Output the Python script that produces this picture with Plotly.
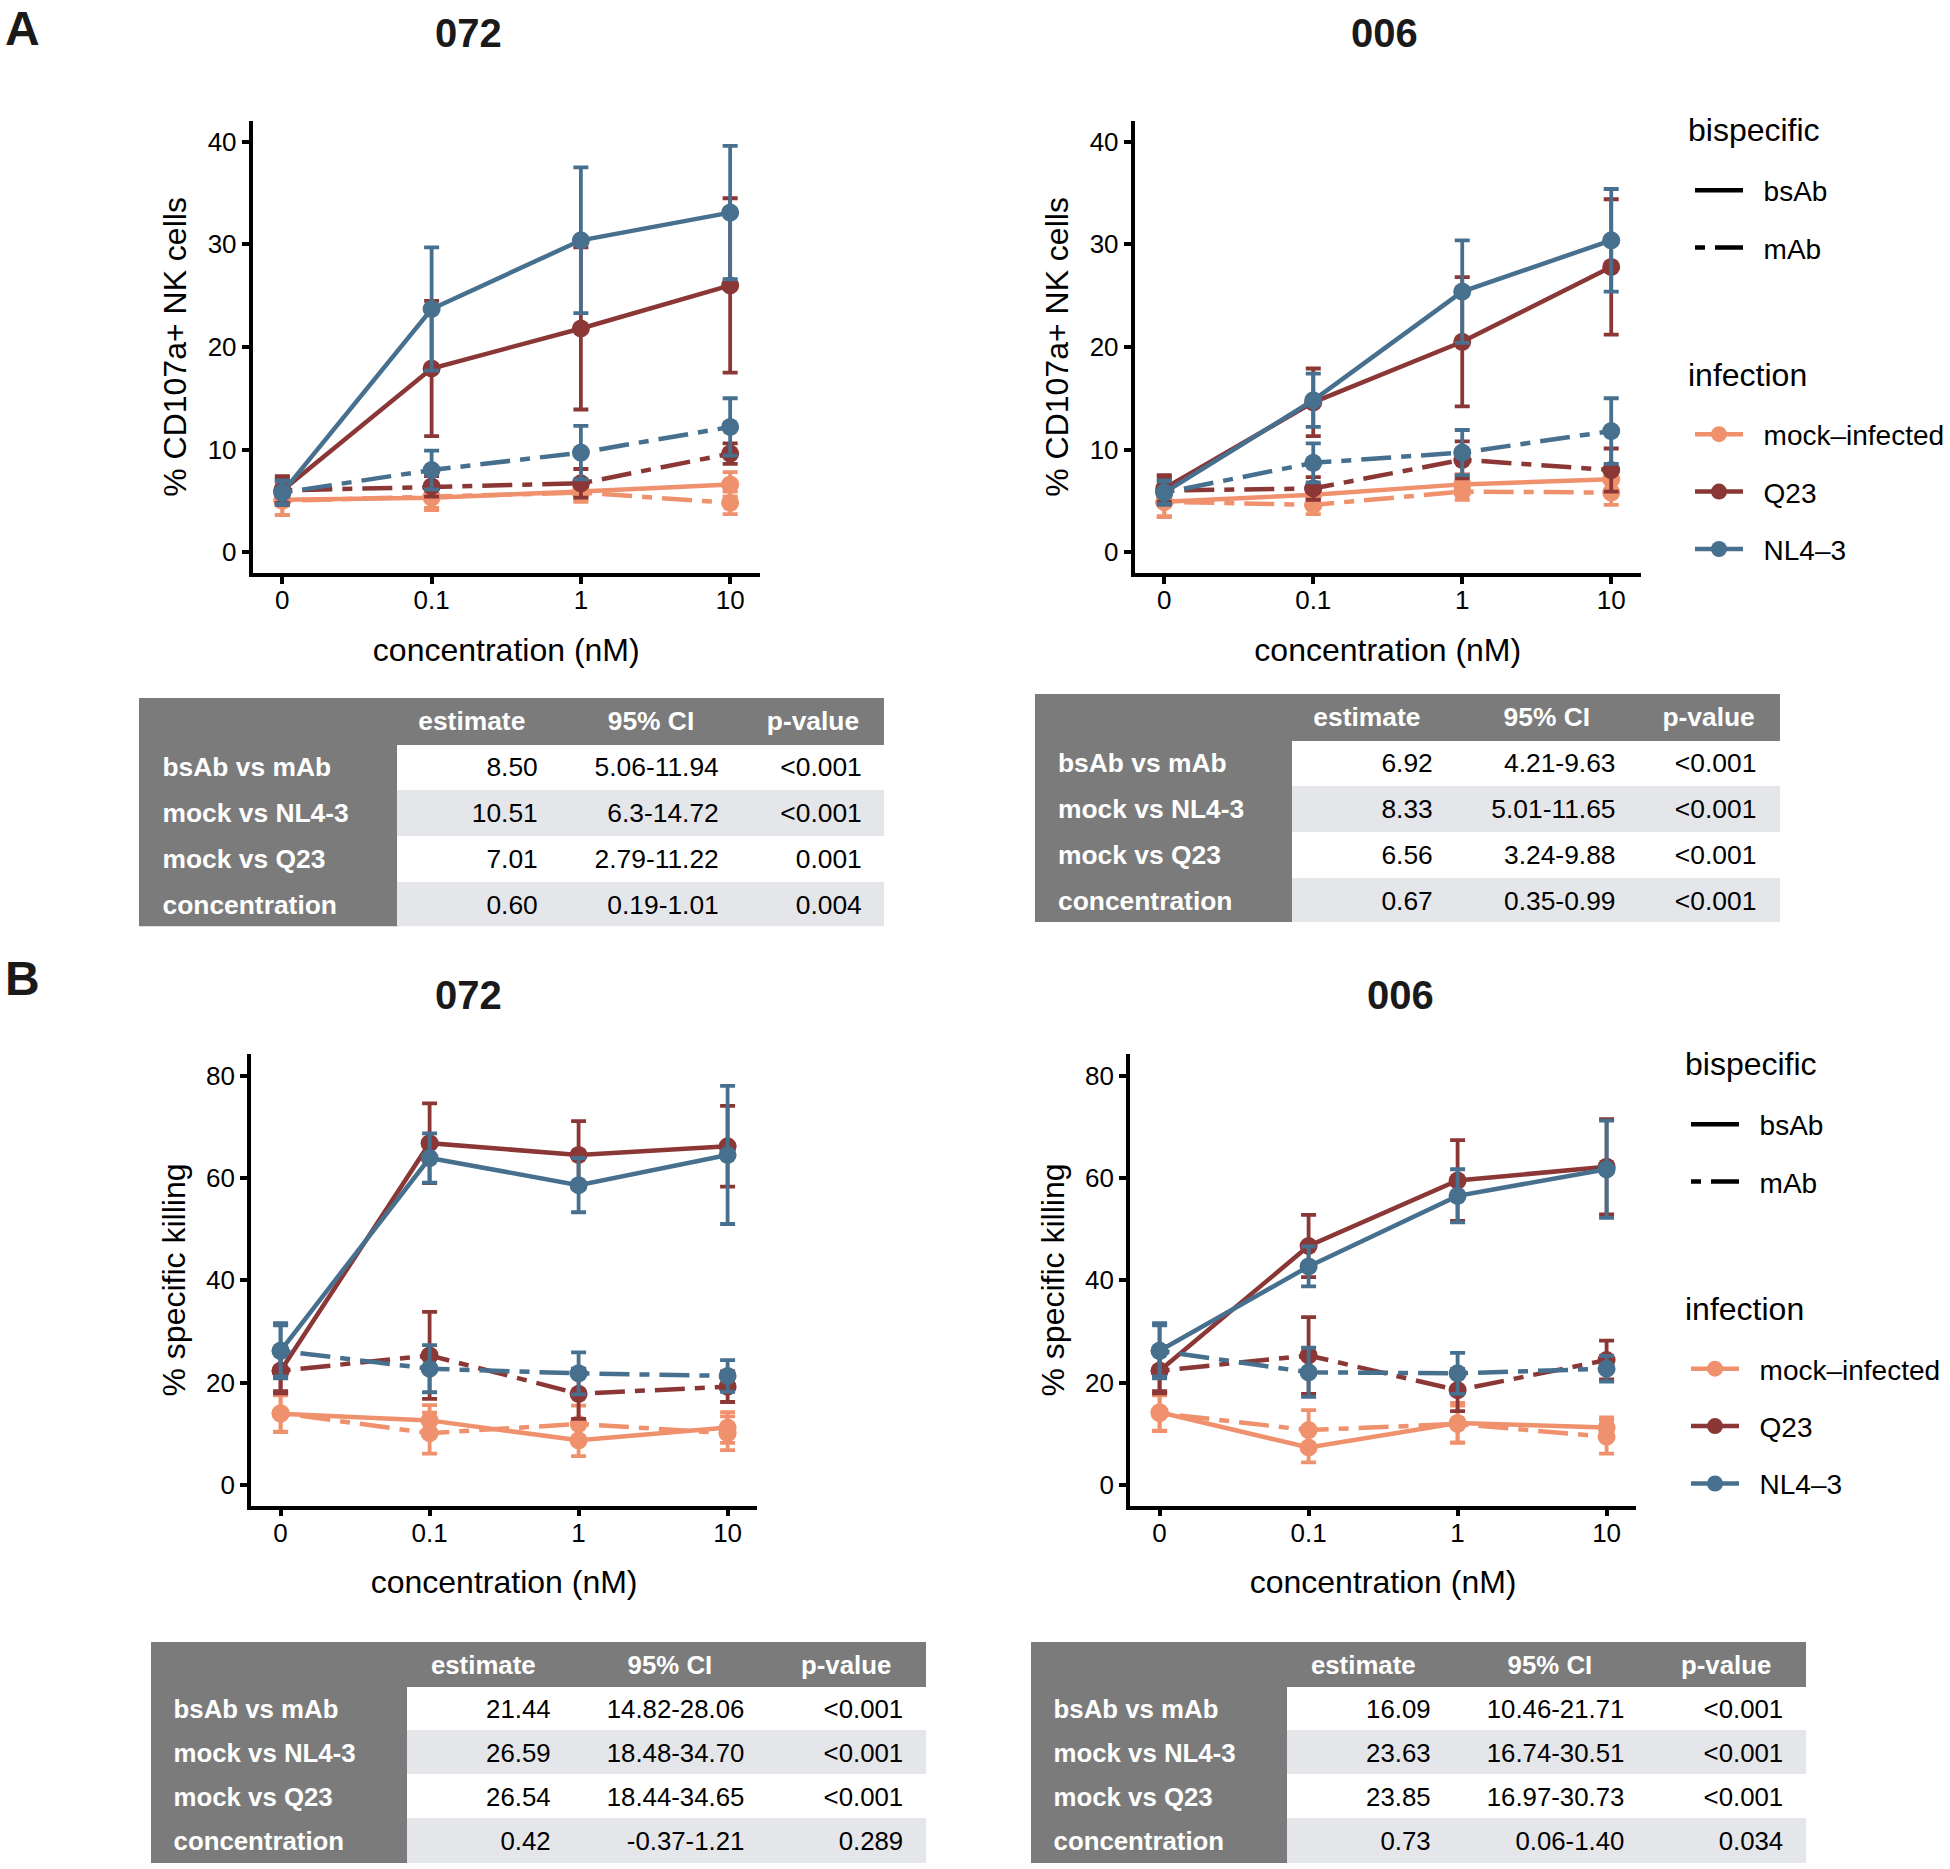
import plotly.graph_objects as go

# ---------------- data ----------------
conc_labels = ["0", "0.1", "1", "10"]
infections = ["mock\u2013infected", "Q23", "NL4\u20133"]
bispecific = ["bsAb", "mAb"]

# Panel A 072 (% CD107a+ NK cells): means and error half-widths
A072_mock_bsAb = [5.1, 5.3, 5.9, 6.6]
A072_mock_bsAb_err = [1.5, 1.0, 0.8, 1.2]
A072_mock_mAb = [5.0, 5.4, 5.8, 4.8]
A072_mock_mAb_err = [1.4, 1.3, 0.9, 1.1]
A072_Q23_bsAb = [6.0, 17.9, 21.8, 26.0]
A072_Q23_bsAb_err = [1.4, 6.6, 7.9, 8.5]
A072_Q23_mAb = [6.0, 6.4, 6.7, 9.6]
A072_Q23_mAb_err = [1.2, 1.0, 1.4, 1.0]
A072_NL43_bsAb = [5.8, 23.7, 30.4, 33.1]
A072_NL43_bsAb_err = [1.2, 6.0, 7.1, 6.5]
A072_NL43_mAb = [5.8, 8.0, 9.7, 12.2]
A072_NL43_mAb_err = [1.1, 1.9, 2.6, 2.8]

# Panel A 006
A006_mock_bsAb = [4.9, 5.6, 6.6, 7.1]
A006_mock_bsAb_err = [1.5, 1.0, 1.0, 1.2]
A006_mock_mAb = [4.9, 4.6, 5.9, 5.8]
A006_mock_mAb_err = [1.4, 0.9, 0.8, 1.2]
A006_Q23_bsAb = [6.2, 14.6, 20.5, 27.8]
A006_Q23_bsAb_err = [1.3, 3.3, 6.3, 6.6]
A006_Q23_mAb = [6.0, 6.2, 9.0, 8.0]
A006_Q23_mAb_err = [1.3, 1.1, 1.8, 2.1]
A006_NL43_bsAb = [5.8, 14.8, 25.4, 30.4]
A006_NL43_bsAb_err = [1.2, 2.6, 5.0, 5.0]
A006_NL43_mAb = [5.8, 8.7, 9.7, 11.8]
A006_NL43_mAb_err = [1.1, 1.9, 2.2, 3.2]

# Panel B 072 (% specific killing)
B072_mock_bsAb = [13.9, 12.6, 8.7, 11.2]
B072_mock_bsAb_err = [3.6, 3.0, 3.1, 3.0]
B072_mock_mAb = [14.0, 10.1, 11.9, 10.1]
B072_mock_mAb_err = [3.6, 4.0, 3.6, 3.3]
B072_Q23_bsAb = [22.3, 66.8, 64.5, 66.2]
B072_Q23_bsAb_err = [4.4, 7.8, 6.6, 7.9]
B072_Q23_mAb = [22.3, 25.3, 17.8, 19.2]
B072_Q23_mAb_err = [4.0, 8.5, 4.9, 3.0]
B072_NL43_bsAb = [26.2, 63.9, 58.6, 64.5]
B072_NL43_bsAb_err = [5.4, 4.8, 5.3, 13.5]
B072_NL43_mAb = [26.2, 22.7, 21.8, 21.3]
B072_NL43_mAb_err = [5.0, 4.6, 4.1, 3.1]

# Panel B 006
B006_mock_bsAb = [14.2, 7.3, 12.1, 11.2]
B006_mock_bsAb_err = [3.6, 2.9, 3.9, 2.0]
B006_mock_mAb = [14.0, 10.7, 11.9, 9.4]
B006_mock_mAb_err = [3.5, 3.9, 3.6, 3.3]
B006_Q23_bsAb = [22.3, 46.7, 59.5, 62.2]
B006_Q23_bsAb_err = [4.4, 6.1, 7.9, 9.3]
B006_Q23_mAb = [22.3, 25.3, 18.5, 24.4]
B006_Q23_mAb_err = [4.0, 7.5, 4.1, 3.8]
B006_NL43_bsAb = [26.2, 42.7, 56.5, 61.7]
B006_NL43_bsAb_err = [5.4, 3.9, 5.2, 9.5]
B006_NL43_mAb = [26.2, 22.0, 21.8, 22.7]
B006_NL43_mAb_err = [5.0, 4.8, 4.0, 2.5]

# Tables
table_header = ["", "estimate", "95% CI", "p-value"]
table_rows = ["bsAb vs mAb", "mock vs NL4-3", "mock vs Q23", "concentration"]
tA072_est = ["8.50", "10.51", "7.01", "0.60"]
tA072_ci = ["5.06-11.94", "6.3-14.72", "2.79-11.22", "0.19-1.01"]
tA072_p = ["<0.001", "<0.001", "0.001", "0.004"]
tA006_est = ["6.92", "8.33", "6.56", "0.67"]
tA006_ci = ["4.21-9.63", "5.01-11.65", "3.24-9.88", "0.35-0.99"]
tA006_p = ["<0.001", "<0.001", "<0.001", "<0.001"]
tB072_est = ["21.44", "26.59", "26.54", "0.42"]
tB072_ci = ["14.82-28.06", "18.48-34.70", "18.44-34.65", "-0.37-1.21"]
tB072_p = ["<0.001", "<0.001", "<0.001", "0.289"]
tB006_est = ["16.09", "23.63", "23.85", "0.73"]
tB006_ci = ["10.46-21.71", "16.74-30.51", "16.97-30.73", "0.06-1.40"]
tB006_p = ["<0.001", "<0.001", "<0.001", "0.034"]

# ---------------- style ----------------
W, H = 1950, 1869
FONT = "Liberation Sans, Arial, Helvetica, sans-serif"
COLORS = {"mock\u2013infected": "#F0916E", "Q23": "#8A3736", "NL4\u20133": "#47708F"}
DASH = {"bsAb": "solid", "mAb": "10px,10px,30px,10px"}
LW = 4.5
DARK = "#7B7B7B"
LIGHT = "#E5E6EA"


def px(x):
    return x / W


def py(y):
    return 1 - y / H


fig = go.Figure()

panels = [
    ("", {
        ("mock\u2013infected", "bsAb"): (A072_mock_bsAb, A072_mock_bsAb_err),
        ("mock\u2013infected", "mAb"): (A072_mock_mAb, A072_mock_mAb_err),
        ("Q23", "bsAb"): (A072_Q23_bsAb, A072_Q23_bsAb_err),
        ("Q23", "mAb"): (A072_Q23_mAb, A072_Q23_mAb_err),
        ("NL4\u20133", "bsAb"): (A072_NL43_bsAb, A072_NL43_bsAb_err),
        ("NL4\u20133", "mAb"): (A072_NL43_mAb, A072_NL43_mAb_err),
    }, (252.5, 760.0), (120.6, 573.3), (-2.07, 42.07), 10, "% CD107a+ NK cells"),
    ("2", {
        ("mock\u2013infected", "bsAb"): (A006_mock_bsAb, A006_mock_bsAb_err),
        ("mock\u2013infected", "mAb"): (A006_mock_mAb, A006_mock_mAb_err),
        ("Q23", "bsAb"): (A006_Q23_bsAb, A006_Q23_bsAb_err),
        ("Q23", "mAb"): (A006_Q23_mAb, A006_Q23_mAb_err),
        ("NL4\u20133", "bsAb"): (A006_NL43_bsAb, A006_NL43_bsAb_err),
        ("NL4\u20133", "mAb"): (A006_NL43_mAb, A006_NL43_mAb_err),
    }, (1134.5, 1641.0), (120.6, 573.3), (-2.07, 42.07), 10, "% CD107a+ NK cells"),
    ("3", {
        ("mock\u2013infected", "bsAb"): (B072_mock_bsAb, B072_mock_bsAb_err),
        ("mock\u2013infected", "mAb"): (B072_mock_mAb, B072_mock_mAb_err),
        ("Q23", "bsAb"): (B072_Q23_bsAb, B072_Q23_bsAb_err),
        ("Q23", "mAb"): (B072_Q23_mAb, B072_Q23_mAb_err),
        ("NL4\u20133", "bsAb"): (B072_NL43_bsAb, B072_NL43_bsAb_err),
        ("NL4\u20133", "mAb"): (B072_NL43_mAb, B072_NL43_mAb_err),
    }, (250.8, 757.4), (1054.3, 1505.7), (-4.08, 84.18), 20, "% specific killing"),
    ("4", {
        ("mock\u2013infected", "bsAb"): (B006_mock_bsAb, B006_mock_bsAb_err),
        ("mock\u2013infected", "mAb"): (B006_mock_mAb, B006_mock_mAb_err),
        ("Q23", "bsAb"): (B006_Q23_bsAb, B006_Q23_bsAb_err),
        ("Q23", "mAb"): (B006_Q23_mAb, B006_Q23_mAb_err),
        ("NL4\u20133", "bsAb"): (B006_NL43_bsAb, B006_NL43_bsAb_err),
        ("NL4\u20133", "mAb"): (B006_NL43_mAb, B006_NL43_mAb_err),
    }, (1129.8, 1636.4), (1054.3, 1505.7), (-4.08, 84.18), 20, "% specific killing"),
]

xidx = list(range(len(conc_labels)))

for suffix, data, xd, yd, yr, dt, ytitle in panels:
    for inf in infections:
        for bs in bispecific:
            vals, err = data[(inf, bs)]
            fig.add_trace(go.Scatter(
                x=xidx, y=vals, mode="lines+markers",
                xaxis="x" + suffix, yaxis="y" + suffix,
                line=dict(color=COLORS[inf], width=LW, dash=DASH[bs]),
                marker=dict(color=COLORS[inf], size=18, symbol="circle"),
                error_y=dict(type="data", array=err, visible=True,
                             color=COLORS[inf], thickness=3.8, width=7.5),
                showlegend=False, hoverinfo="skip",
            ))
    axis_common = dict(showline=True, linecolor="black", linewidth=3.5,
                       ticks="outside", ticklen=7, tickwidth=3.5, tickcolor="black",
                       showgrid=False, zeroline=False,
                       tickfont=dict(family=FONT, size=26, color="black"))
    fig.layout["xaxis" + suffix] = dict(
        domain=[px(xd[0]), px(xd[1])], range=[-0.2, 3.2],
        tickvals=xidx, ticktext=conc_labels, ticklabelstandoff=-6,
        anchor="y" + suffix,
        title=dict(text="concentration (nM)", font=dict(family=FONT, size=32, color="black"), standoff=25),
        **axis_common)
    fig.layout["yaxis" + suffix] = dict(
        domain=[py(yd[1]), py(yd[0])], range=list(yr), dtick=dt, tick0=0,
        anchor="x" + suffix,
        title=dict(text=ytitle, font=dict(family=FONT, size=32, color="black"), standoff=12),
        **axis_common)

# ---------------- legends ----------------
legend_sets = [("legend", "legend2"), ("legend3", "legend4")]
pad = "\u00a0\u00a0"
for k, (lg_bs, lg_inf) in enumerate(legend_sets):
    for bs in bispecific:
        fig.add_trace(go.Scatter(
            x=[None], y=[None], mode="lines", name=pad + bs,
            line=dict(color="black", width=LW, dash=DASH[bs]),
            legend=lg_bs, legendgroup=f"{lg_bs}_{bs}", showlegend=True))
    for inf in infections:
        fig.add_trace(go.Scatter(
            x=[None], y=[None], mode="lines+markers", name=pad + inf,
            line=dict(color=COLORS[inf], width=LW),
            marker=dict(color=COLORS[inf], size=18),
            legend=lg_inf, legendgroup=f"{lg_inf}_{inf}", showlegend=True))

leg_common = dict(xanchor="left", yanchor="top", bgcolor="rgba(0,0,0,0)",
                  font=dict(family=FONT, size=28, color="black"),
                  tracegroupgap=18, itemwidth=48, traceorder="grouped")
fig.update_layout(
    legend=dict(x=px(1690), y=py(165.5), **leg_common),
    legend2=dict(x=px(1690), y=py(409.5), **leg_common),
    legend3=dict(x=px(1686), y=py(1099.5), **leg_common),
    legend4=dict(x=px(1686), y=py(1344), **leg_common),
)
legend_titles = [("bispecific", 1686, 130), ("infection", 1686, 375),
                 ("bispecific", 1683, 1064), ("infection", 1683, 1308.6)]
for txt, lx, ly in legend_titles:
    fig.add_annotation(text=txt, x=px(lx), y=py(ly), xref="paper", yref="paper",
                       xanchor="left", yanchor="middle", showarrow=False,
                       font=dict(family=FONT, size=32, color="black"))

# ---------------- tables ----------------
# (estimates, CIs, p-values, x extent px, top px, column widths, font size)
tables = [
    (tA072_est, tA072_ci, tA072_p, (139.8, 884.0), 698.3, [258, 148, 181, 143, 14], 26.4),
    (tA006_est, tA006_ci, tA006_p, (1035.3, 1780.2), 694.0, [258, 148, 183, 141, 15], 26.4),
    (tB072_est, tB072_ci, tB072_p, (151.2, 925.7), 1642.7, [257, 151, 194, 159, 14], 25.8),
    (tB006_est, tB006_ci, tB006_p, (1031.2, 1805.7), 1642.7, [257, 151, 194, 159, 14], 25.8),
]
nb = "\u00a0"


def span(v):
    return "<span>" + v + "</span>"


for est, ci, p, xd, top, cw, fs in tables:
    n = len(table_rows)
    rowh = fs * 1.1 + 16
    stripe = [("white" if i % 2 == 0 else LIGHT) for i in range(n)]
    fills = [[DARK] * n, stripe, stripe, stripe, stripe]
    bottom = min(top + rowh * (n + 1) + 3, H)
    fig.add_trace(go.Table(
        domain=dict(x=[px(xd[0]), px(xd[1])], y=[py(bottom), py(top)]),
        columnwidth=cw,
        header=dict(
            values=["", "<b>" + table_header[1] + "</b>", nb * 4 + "<b>" + table_header[2] + "</b>",
                    nb * 4 + "<b>" + table_header[3] + "</b>", ""],
            fill_color=DARK, line=dict(color=DARK, width=1),
            align=["left", "center", "center", "center", "center"],
            font=dict(family=FONT, size=fs, color="white"), height=rowh - 1),
        cells=dict(
            values=[[nb + nb + "<b>" + r + "</b>" for r in table_rows],
                    [span(v) for v in est], [span(v) for v in ci],
                    [span(v) for v in p], [span("") for _ in range(n)]],
            fill_color=fills,
            line=dict(color=fills, width=1),
            align=["left", "right", "right", "right", "right"],
            font=dict(family=FONT, size=fs, color=[["white"] * n, ["black"] * n, ["black"] * n, ["black"] * n, ["black"] * n]),
            height=rowh - 1),
    ))

# ---------------- titles ----------------
fig.add_annotation(text="<b>A</b>", x=px(22), y=1, xref="paper", yref="paper",
                   xanchor="center", yanchor="top", showarrow=False,
                   font=dict(family=FONT, size=48, color="#1a1a1a"))
annots = [
    dict(text="<b>B</b>", x=22, y=978, size=48),
    dict(text="<b>072</b>", x=468, y=33, size=40),
    dict(text="<b>006</b>", x=1384, y=33, size=40),
    dict(text="<b>072</b>", x=468, y=995, size=40),
    dict(text="<b>006</b>", x=1400, y=995, size=40),
]
for a in annots:
    fig.add_annotation(text=a["text"], x=px(a["x"]), y=py(a["y"]), xref="paper", yref="paper",
                       xanchor="center", yanchor="middle", showarrow=False,
                       font=dict(family=FONT, size=a["size"], color="#1a1a1a"))

fig.update_layout(
    width=W, height=H, margin=dict(l=0, r=0, t=0, b=0),
    paper_bgcolor="white", plot_bgcolor="white",
    font=dict(family=FONT, color="black"),
)

# remove the default page margin so the figure fills the window exactly
fig.write_html("out.html", config={"displayModeBar": False},
               post_script="document.body.style.margin='0px';")
